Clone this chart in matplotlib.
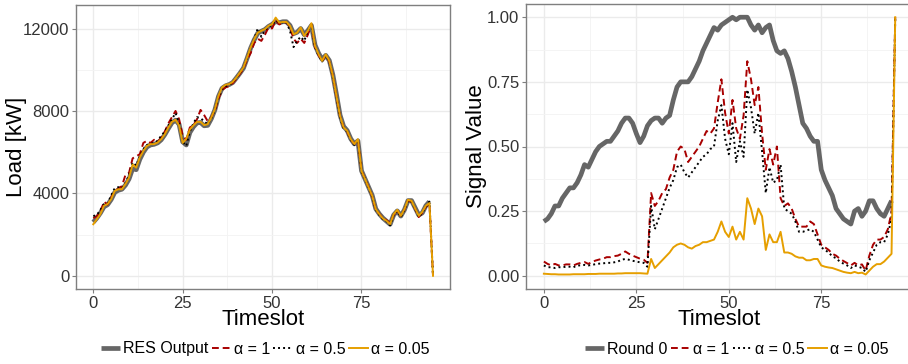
import numpy as np
import matplotlib
matplotlib.use("Agg")
import matplotlib.pyplot as plt
from matplotlib.ticker import MultipleLocator

plt.rcParams['font.family'] = ['Liberation Sans', 'DejaVu Sans']

# ---- left panel: load [kW] ----
res_output = [2600, 2800, 3050, 3350, 3450, 3700, 4050, 4150, 4200, 4400,
              4700, 5200, 5150, 5650, 6000, 6250, 6350, 6380, 6450, 6600,
              6850, 7150, 7430, 7550, 7350, 6500, 6350, 6950, 7230, 7420,
              7440, 7280, 7300, 7620, 8050, 8700, 9100, 9220, 9280, 9380,
              9600, 9830, 10080, 10550, 11050, 11450, 11780, 11870, 11950, 12100,
              12200, 12350, 12280, 12330, 12330, 12150, 11750, 11820, 12000, 11700,
              11900, 12150, 11200, 10800, 10500, 10700, 10450, 9750, 8800, 7800,
              7250, 7050, 6650, 6400, 6550, 5100, 4700, 4300, 3900, 3250,
              3000, 2800, 2650, 2500, 2950, 3150, 2900, 3200, 3650, 3650,
              3300, 2950, 3050, 3400, 3600]
load_a1 = [2800, 2900, 3100, 3600, 3450, 3800, 4100, 4250, 4350, 4900,
           5000, 5700, 5800, 5900, 6450, 6550, 6450, 6600, 6500, 6700,
           7000, 7400, 7700, 8000, 7600, 6800, 6600, 7200, 7300, 7600,
           8050, 7800, 7500, 7700, 8000, 8600, 9000, 9150, 9200, 9350,
           9550, 9800, 10050, 10500, 10800, 11300, 11500, 11400, 11700, 12050,
           12000, 12400, 12200, 12250, 12300, 12100, 11500, 11300, 11500, 11300,
           11700, 12200, 11100, 10700, 10400, 10700, 10400, 9700, 8700, 7750,
           7200, 7000, 6600, 6400, 6600, 5100, 4700, 4300, 3850, 3200,
           3000, 2800, 2700, 2550, 2950, 3150, 2900, 3200, 3650, 3600,
           3250, 2850, 3050, 3350, 3500, 0]
load_a05 = [2900, 2950, 3200, 3500, 3500, 3900, 4250, 4300, 4250, 4500,
            4900, 5500, 5350, 5800, 6150, 6350, 6400, 6450, 6550, 6800,
            7000, 7300, 7600, 7900, 7400, 6500, 6300, 7000, 7400, 7700,
            7650, 7500, 7350, 7650, 8050, 8650, 9050, 9200, 9250, 9400,
            9600, 9850, 10100, 10550, 11050, 11500, 12000, 11600, 11900, 12100,
            12150, 12400, 12300, 12300, 12300, 11900, 11100, 11400, 11600, 11400,
            11900, 12200, 11100, 10700, 10400, 10700, 10400, 9650, 8700, 7700,
            7150, 7000, 6600, 6350, 6600, 5050, 4700, 4250, 3850, 3200,
            2950, 2750, 2650, 2450, 2950, 3150, 2850, 3200, 3650, 3600,
            3250, 2850, 3050, 3350, 3600, 0]
load_a005 = [2500, 2750, 3000, 3400, 3480, 3720, 4120, 4200, 4200, 4450,
             4770, 5400, 5250, 5740, 6060, 6300, 6390, 6390, 6470, 6630,
             6870, 7200, 7470, 7570, 7300, 6450, 6650, 7100, 7300, 7470,
             7470, 7310, 7360, 7680, 8090, 8730, 9140, 9270, 9300, 9410,
             9620, 9860, 10110, 10590, 11080, 11480, 11800, 11890, 11970, 12130,
             12210, 12530, 12290, 12320, 12320, 12130, 11720, 11800, 12050, 11640,
             11890, 12260, 11160, 10750, 10430, 10750, 10430, 9700, 8730, 7760,
             7200, 7030, 6630, 6390, 6630, 5090, 4690, 4280, 3880, 3230,
             2990, 2780, 2670, 2510, 2990, 3200, 2910, 3230, 3690, 3640,
             3270, 2910, 3100, 3400, 3530, 0]

# ---- right panel: signal value ----
round0 = [.21, .22, .24, .27, .27, .30, .32, .34, .34, .36,
          .39, .43, .42, .45, .48, .50, .51, .52, .52, .54,
          .56, .59, .61, .61, .59, .55, .515, .54, .58, .60,
          .61, .61, .59, .61, .62, .68, .73, .75, .75, .75,
          .77, .80, .83, .87, .90, .93, .96, .95, .97, .98,
          .99, 1.0, .99, 1.0, 1.0, 1.0, .97, .95, .97, .94,
          .96, .97, .91, .87, .86, .87, .84, .79, .73, .66,
          .59, .57, .54, .52, .52, .41, .37, .34, .31, .26,
          .24, .22, .21, .20, .25, .26, .23, .25, .29, .29,
          .26, .24, .23, .26, .29]
sig_a1 = [.055, .046, .04, .046, .04, .04, .044, .044, .04, .046,
          .05, .053, .046, .053, .059, .063, .066, .072, .072, .076,
          .078, .085, .094, .085, .078, .072, .066, .062, .05, .32,
          .27, .29, .32, .335, .38, .41, .48, .50, .49, .44,
          .46, .48, .50, .53, .56, .55, .57, .67, .76, .63,
          .55, .68, .57, .53, .62, .83, .76, .66, .73, .55,
          .41, .49, .43, .50, .30, .27, .28, .26, .22, .19,
          .19, .19, .21, .20, .16, .12, .11, .10, .085, .078,
          .066, .057, .049, .04, .05, .04, .044, .02, .078, .12,
          .14, .14, .15, .18, .245, 1.0]
sig_a05 = [.04, .033, .033, .03, .033, .033, .035, .035, .033, .04,
           .04, .042, .04, .042, .045, .047, .048, .05, .05, .052,
           .055, .062, .065, .062, .058, .055, .052, .05, .035, .27,
           .18, .22, .26, .30, .34, .37, .42, .43, .40, .38,
           .40, .42, .44, .46, .47, .49, .50, .60, .66, .53,
           .47, .59, .44, .52, .46, .72, .65, .55, .63, .48,
           .32, .42, .36, .37, .43, .26, .25, .24, .21, .17,
           .17, .175, .18, .17, .14, .11, .10, .09, .075, .068,
           .055, .047, .04, .03, .04, .035, .03, .015, .06, .09,
           .12, .13, .13, .16, .22, 1.0]
sig_a005 = [.008, .007, .006, .006, .005, .005, .005, .005, .006, .006,
            .006, .006, .007, .007, .007, .008, .008, .008, .008, .008,
            .009, .009, .01, .01, .01, .01, .01, .009, .008, .065,
            .03, .045, .06, .075, .09, .11, .12, .125, .12, .11,
            .105, .115, .12, .13, .13, .135, .14, .17, .21, .17,
            .15, .19, .14, .17, .14, .30, .26, .20, .26, .23,
            .10, .16, .13, .13, .17, .09, .09, .085, .075, .07,
            .07, .06, .06, .065, .065, .04, .035, .032, .03, .025,
            .02, .015, .012, .01, .015, .01, .012, .005, .02, .035,
            .045, .045, .055, .07, .085, 1.0]

labels_alpha = ['α = 1', 'α = 0.5', 'α = 0.05']

GRAY = '#666666'
RED = '#A80000'
ORANGE = '#E69F00'

W, H = 908, 364
fig = plt.figure(figsize=(W / 100, H / 100), dpi=100)


def px_axes(x0, y0, x1, y1):
    return fig.add_axes([x0 / W, 1 - y1 / H, (x1 - x0) / W, (y1 - y0) / H])


def style(ax):
    for s in ax.spines.values():
        s.set_color('#7F7F7F')
        s.set_linewidth(1.0)
    ax.grid(which='major', color='#EBEBEB', linewidth=1.0)
    ax.grid(which='minor', color='#F3F3F3', linewidth=0.6)
    ax.set_axisbelow(True)
    ax.tick_params(which='major', length=3, color='#7F7F7F', labelsize=12,
                   labelcolor='#333333', pad=2)
    ax.tick_params(which='minor', length=0)
    ax.xaxis.set_major_locator(MultipleLocator(25))
    ax.xaxis.set_minor_locator(MultipleLocator(12.5))
    ax.set_xlim(-4.75, 99.75)
    ax.set_xlabel('Timeslot', fontsize=16, labelpad=-1)


def draw(ax, base, a1, a05, a005):
    l0, = ax.plot(np.arange(len(base)), base, color=GRAY, lw=3.4,
                  solid_capstyle='butt')
    l1, = ax.plot(np.arange(len(a1)), a1, color=RED, lw=1.4,
                  dashes=(3.5, 2))
    l2, = ax.plot(np.arange(len(a05)), a05, color='black', lw=1.4,
                  dashes=(1, 1.6))
    l3, = ax.plot(np.arange(len(a005)), a005, color=ORANGE, lw=1.4)
    return [l0, l1, l2, l3]


# left
ax1 = px_axes(76.3, 4.7, 450, 288.7)
style(ax1)
h1 = draw(ax1, res_output, load_a1, load_a05, load_a005)
ax1.set_ylim(-626, 13156)
ax1.yaxis.set_major_locator(MultipleLocator(4000))
ax1.yaxis.set_minor_locator(MultipleLocator(2000))
ax1.set_ylabel('Load [kW]', fontsize=16)
ax1.yaxis.set_label_coords(-0.132, 0.5)

# right
ax2 = px_axes(526.3, 4.3, 912.8, 288.7)
style(ax2)
h2 = draw(ax2, round0, sig_a1, sig_a05, sig_a005)
ax2.set_ylim(-0.05, 1.05)
ax2.yaxis.set_major_locator(MultipleLocator(0.25))
ax2.yaxis.set_minor_locator(MultipleLocator(0.125))
ax2.yaxis.set_major_formatter(matplotlib.ticker.FormatStrFormatter('%.2f'))
ax2.set_ylabel('Signal Value', fontsize=16)
ax2.yaxis.set_label_coords(-0.102, 0.5)

leg_kw = dict(ncol=4, frameon=False, fontsize=11.5, handlelength=1.2,
              handletextpad=0.2, columnspacing=0.2, loc='center',
              borderaxespad=0)
fig.legend(h1, ['RES Output'] + labels_alpha,
           bbox_to_anchor=(265 / W, 1 - 349 / H), **leg_kw)
fig.legend(h2, ['Round 0'] + labels_alpha,
           bbox_to_anchor=(737 / W, 1 - 349 / H), **leg_kw)

fig.savefig('out.png', dpi=100)
plt.close(fig)
